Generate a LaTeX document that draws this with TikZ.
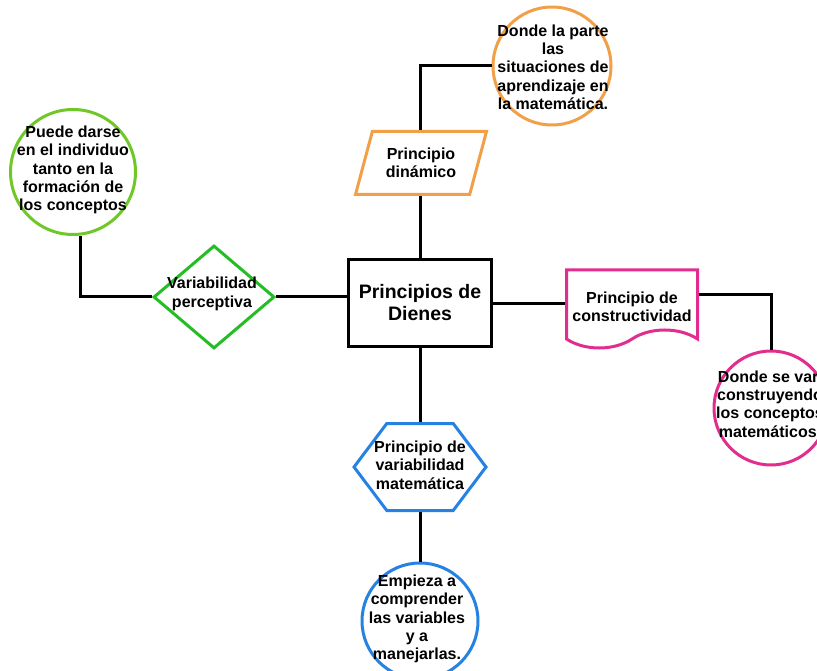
\documentclass[tikz,border=0pt]{standalone}
\usepackage{fontspec}
\setmainfont{Liberation Sans}
\usetikzlibrary{shapes.geometric}
\usetikzlibrary{shapes.symbols}
\definecolor{dinOrange}{RGB}{242,160,72}
\definecolor{perGreen}{RGB}{112,200,40}
\definecolor{varGreen}{RGB}{36,190,36}
\definecolor{conPink}{RGB}{226,44,142}
\definecolor{matBlue}{RGB}{38,130,226}

\begin{document}
\begin{tikzpicture}[x=1pt, y=-1pt,
		every node/.style={inner sep=0pt},
		shape line/.style={line width=3pt, fill=white},
		bubble/.style={circle, shape line, minimum size=116pt},
		note/.style={align=center, font=\fontsize{16}{18.3}\selectfont\bfseries},
		link/.style={line width=3pt}]
		\useasboundingbox (0,0) rectangle (817,671);
		\node [draw, shape line, minimum width=143pt, minimum height=87pt, note,
			font=\fontsize{19.5}{22}\selectfont\bfseries] (dienes) at (420,303) {Principios de\\Dienes};
		\node [trapezium, trapezium left angle=68, trapezium right angle=112, trapezium stretches,
			draw=dinOrange, shape line, minimum width=132pt, minimum height=63pt, note] (dinamico) at (421,163) {Principio\\dinámico};
		\node [bubble, draw=dinOrange, minimum size=118pt] (laparte) at (552,66) {};
		\node [note] (laparte txt) at (553,67) {Donde la parte\\las\\situaciones de\\aprendizaje en\\la matemática.};
		\node [bubble, draw=perGreen, minimum size=125pt] (individuo) at (73,172) {};
		\node [note] (individuo txt) at (73,170) {Puede darse\\en el individuo\\tanto en la\\formación de\\los conceptos};
		\node [diamond, draw=varGreen, shape line, minimum width=121pt, minimum height=103pt] (perceptiva) at (214,297) {};
		\node [note] (perceptiva txt) at (212,294) {Variabilidad\\perceptiva};
		\node [tape, tape bend top=none, tape bend bottom=in and out, tape bend height=18pt,
			draw=conPink, shape line, minimum width=131pt, minimum height=78pt] (constructiva) at (632,300) {};
		\node [note] (constructiva txt) at (632,307) {Principio de\\constructividad};
		\node [bubble, draw=conPink, minimum size=114pt] (vanconst) at (771,408) {};
		\node [note] (vanconst txt) at (770,404) {Donde se van\\construyendo\\los conceptos\\matemáticos.};
		\node [signal, signal to=west and east, signal pointer angle=106,
			draw=matBlue, shape line, minimum width=132pt, minimum height=87pt] (variab) at (420,467) {};
		\node [note] (variab txt) at (420,465) {Principio de\\variabilidad\\matemática};
		\node [bubble, draw=matBlue] (variables) at (420,621) {};
		\node [note] (variables txt) at (417,619) {Empieza a\\comprender\\las variables\\y a\\manejarlas.};

		\draw [link] (dienes.north) -- (dienes.north |- dinamico.south);
		\draw [link] (dienes.north |- dinamico.north) |- (laparte.west);
		\draw [link] (perceptiva.east) -- (perceptiva.east -| dienes.west);
		\draw [link] (perceptiva.west) -| ([xshift=7pt]individuo.south);
		\draw [link] (dienes.east) -- (dienes.east -| constructiva.west);
		\draw [link] ([yshift=5pt]constructiva.east -| constructiva.east) -| (vanconst.north);
		\draw [link] (dienes.south) -- (variab.north);
		\draw [link] (variab.south) -- (variables.north);
\end{tikzpicture}
\end{document}
